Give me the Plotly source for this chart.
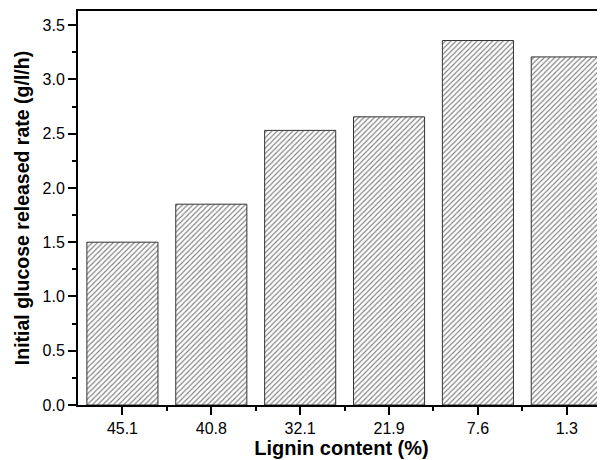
import plotly.graph_objects as go

categories = ["45.1", "40.8", "32.1", "21.9", "7.6", "1.3"]
rates = [1.50, 1.85, 2.53, 2.655, 3.358, 3.207]
y_ticks = [0.0, 0.5, 1.0, 1.5, 2.0, 2.5, 3.0, 3.5]
y_tick_labels = ["0.0", "0.5", "1.0", "1.5", "2.0", "2.5", "3.0", "3.5"]

FONT = "Liberation Sans, Arial, sans-serif"

fig = go.Figure()
fig.add_trace(go.Bar(
    x=list(range(len(categories))),
    y=rates,
    width=0.8,
    marker=dict(
        color="white",
        line=dict(color="#333333", width=1),
        pattern=dict(shape="/", size=3.7, solidity=0.3, fgcolor="#000000", bgcolor="white"),
    ),
    showlegend=False,
))

# The page body has an 8px default margin, so the figure is sized and
# offset to land where the reference plot area sits.
fig.update_layout(
    width=597, height=452,
    margin=dict(l=70, r=0, t=3, b=55, autoexpand=False),
    paper_bgcolor="white", plot_bgcolor="white",
    font=dict(family=FONT, color="black", size=16),
    xaxis=dict(
        range=[-0.5, 5.43],
        tickmode="array",
        tickvals=list(range(len(categories))),
        ticktext=categories,
        showline=True, linecolor="black", linewidth=2, mirror=True,
        ticks="outside", ticklen=8, tickwidth=2, tickcolor="black",
        minor=dict(tickmode="array", tickvals=[0.5, 1.5, 2.5, 3.5, 4.5],
                   ticks="outside", ticklen=4, tickwidth=2, tickcolor="black"),
        showgrid=False, zeroline=False,
        tickfont=dict(size=16, family=FONT),
        title=dict(text="<b>Lignin content (%)</b>", font=dict(size=20, family=FONT), standoff=2),
    ),
    yaxis=dict(
        range=[0, 3.63],
        tickmode="array",
        tickvals=y_ticks,
        ticktext=y_tick_labels,
        showline=True, linecolor="black", linewidth=2,
        ticks="outside", ticklen=8, tickwidth=2, tickcolor="black",
        minor=dict(dtick=0.25, ticks="outside", ticklen=4, tickwidth=2, tickcolor="black"),
        showgrid=False, zeroline=False,
        tickfont=dict(size=16, family=FONT),
        title=dict(text="<b>Initial glucose released rate (g/l/h)</b>", font=dict(size=19.5, family=FONT), standoff=8),
    ),
)

fig.write_html("out.html")
